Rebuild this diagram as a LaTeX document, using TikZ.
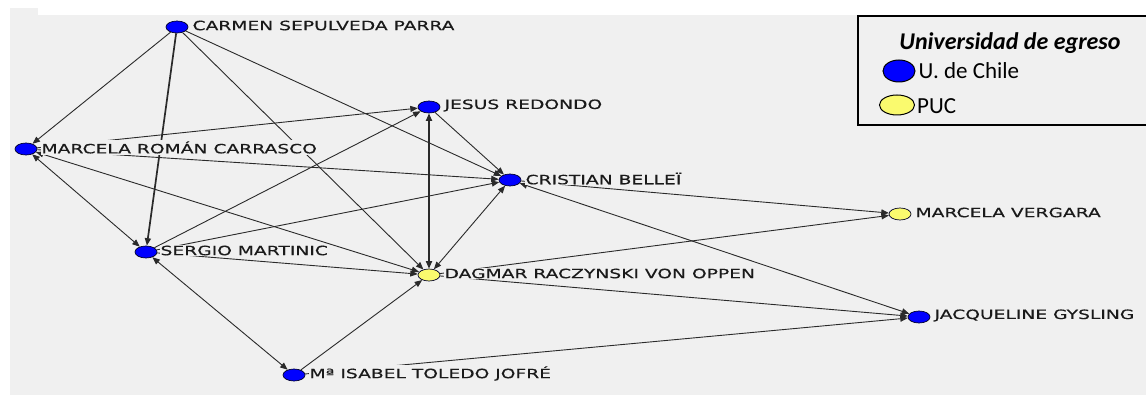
\documentclass[tikz,border=0pt]{standalone}
\usepackage{fontspec}
\usetikzlibrary{arrows.meta,shapes.geometric}
\newfontfamily\labfont[FakeStretch=1.46,FakeBold=0.4]{DejaVu Sans}
\newfontfamily\legfont{Carlito}
\definecolor{bggray}{HTML}{F0F0F0}
\definecolor{nblue}{HTML}{0000FF}
\definecolor{nyellow}{HTML}{FAFA6E}
\definecolor{edgecol}{HTML}{2A2A2A}
\definecolor{txtcol}{HTML}{1A1A1A}
\begin{document}
\begin{tikzpicture}[x=1pt,y=-1pt,
  actor/.style={ellipse,draw=black!85!blue,line width=0.7pt,minimum width=22pt,minimum height=12pt,inner sep=0pt},
  chile/.style={actor,fill=nblue},
  puc/.style={actor,fill=nyellow},
  lab/.style={anchor=west,fill=bggray,inner sep=1pt,text=txtcol,font=\labfont\fontsize{12.8}{14}\selectfont},
  tie/.style={draw=edgecol,line width=0.9pt,-{Triangle[length=7.5pt,width=6pt]}},
  mutual/.style={tie,{Triangle[length=7.5pt,width=6pt]}-{Triangle[length=7.5pt,width=6pt]}},
  heavy/.style={line width=1.7pt},
  legtext/.style={anchor=west,inner sep=0pt,font=\legfont\fontsize{23}{26}\selectfont}
]
\useasboundingbox (0,0) rectangle (1146,395);
% background
\fill[bggray] (10,15) rectangle (1146,395);
\fill[bggray] (10,8) rectangle (38,15);

% nodes
\node[chile] (C)  at (177,27) {};
\node[chile] (J)  at (429,107) {};
\node[chile] (MR) at (26,149) {};
\node[chile] (CB) at (510,180) {};
\node[puc]   (MV) at (900,214) {};
\node[chile] (SM) at (146,252) {};
\node[puc]   (D)  at (429,275) {};
\node[chile] (JG) at (919,317) {};
\node[chile] (MI) at (294,375) {};

% ties
\draw[tie] (C) -- (MR);
\draw[tie,heavy] (C) -- (SM);
\draw[tie] (C) -- (D);
\draw[tie] (C) -- (CB);
\draw[tie] (MR) -- (J);
\draw[tie] (MR) -- (CB);
\draw[mutual] (MR) -- (SM);
\draw[mutual] (MR) -- (D);
\draw[tie] (SM) -- (J);
\draw[tie] (SM) -- (CB);
\draw[tie] (SM) -- (D);
\draw[mutual] (SM) -- (MI);
\draw[mutual,heavy] (J) -- (D);
\draw[tie] (J) -- (CB);
\draw[mutual] (D) -- (CB);
\draw[tie] (D) -- (MV);
\draw[tie] (D) -- (JG);
\draw[tie] (MI) -- (D);
\draw[tie] (MI) -- (JG);
\draw[tie] (CB) -- (MV);
\draw[mutual] (CB) -- (JG);

% labels
\node[lab] (lC)  at ([xshift=3pt,yshift=1.5pt]C.east)  {CARMEN SEPULVEDA PARRA};
\node[lab] (lJ)  at ([xshift=3pt,yshift=1.5pt]J.east)  {JESUS REDONDO};
\node[lab] (lMR) at ([xshift=3pt,yshift=1.5pt]MR.east) {MARCELA ROMÁN CARRASCO};
\node[lab] (lCB) at ([xshift=3pt,yshift=1.5pt]CB.east) {CRISTIAN BELLEÏ};
\node[lab] (lMV) at ([xshift=3pt,yshift=1.5pt]MV.east) {MARCELA VERGARA};
\node[lab] (lSM) at ([xshift=2pt,yshift=1.5pt]SM.east) {SERGIO MARTINIC};
\node[lab] (lD)  at ([xshift=3pt,yshift=1.5pt]D.east)  {DAGMAR RACZYNSKI VON OPPEN};
\node[lab] (lJG) at ([xshift=3pt,yshift=1.5pt]JG.east) {JACQUELINE GYSLING};
\node[lab] (lMI) at ([xshift=3pt,yshift=1.5pt]MI.east) {Mª ISABEL TOLEDO JOFRÉ};

% legend
\draw[line width=2pt,fill=bggray] (858,16) rectangle (1152,125);
\node[font=\legfont\bfseries\itshape\fontsize{24}{27}\selectfont,inner sep=0pt] (lt) at (1010,43) {Universidad de egreso};
\node[ellipse,draw=black,line width=1pt,fill=nblue,minimum width=32pt,minimum height=22pt,inner sep=0pt] (lb) at (899,71) {};
\node[legtext] (lbt) at ([xshift=3pt]lb.east) {U. de Chile};
\node[ellipse,draw=black,line width=1pt,fill=nyellow,minimum width=35pt,minimum height=20pt,inner sep=0pt] (ly) at (897,105) {};
\node[legtext] (lyt) at ([xshift=2pt,yshift=-1pt]ly.east) {PUC};
\end{tikzpicture}
\end{document}
